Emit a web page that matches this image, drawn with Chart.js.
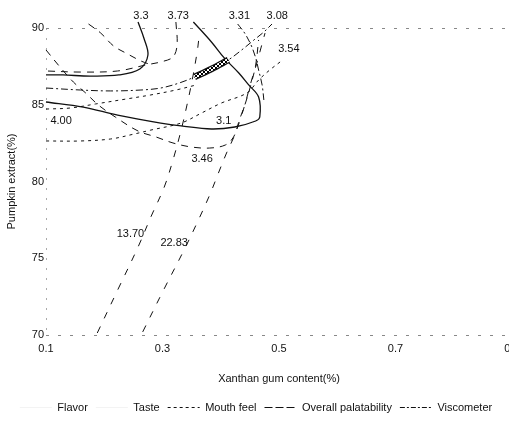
<!DOCTYPE html>
<html>
<head>
<meta charset="utf-8">
<script src="https://cdn.jsdelivr.net/npm/chart.js@4.4.0/dist/chart.umd.min.js"></script>
<style>
  html, body { margin: 0; padding: 0; background: #fff; overflow: hidden; }
  #wrap { position: absolute; left: 0; top: 0; width: 540px; height: 423px; }
</style>
</head>
<body>
<div id="wrap"><canvas id="c" width="540" height="423"></canvas></div>
<script>
// Superimposed contour lines: xanthan gum content (x) vs pumpkin extract (y)
const xTicks = [0.1, 0.3, 0.5, 0.7, 0.9];
const yTicks = [70, 75, 80, 85, 90];

// Flavor contours
const flavor33X = [0.258, 0.268, 0.275, 0.261, 0.225, 0.176, 0.129, 0.100];
const flavor33Y = [90.39, 89.35, 88.24, 87.33, 86.94, 86.87, 86.94, 86.94];
const flavor31X = [0.353, 0.384, 0.406, 0.431, 0.448, 0.465, 0.467, 0.460, 0.424, 0.384, 0.332, 0.297, 0.223, 0.164, 0.100];
const flavor31Y = [90.39, 89.09, 88.05, 87.07, 86.29, 85.50, 84.20, 83.94, 83.55, 83.42, 83.62, 83.81, 84.33, 84.85, 85.18];

// Taste contours
const taste373X = [0.323, 0.325, 0.318, 0.297, 0.271, 0.223, 0.159, 0.100];
const taste373Y = [90.39, 88.89, 88.11, 87.79, 87.59, 87.20, 87.13, 87.20];
const taste373bX = [0.173, 0.194, 0.216, 0.240, 0.263, 0.277];
const taste373bY = [90.26, 89.67, 88.83, 88.31, 87.85, 87.65];
const taste346X = [0.100, 0.124, 0.147, 0.168, 0.190, 0.219, 0.258, 0.289, 0.318, 0.349, 0.381, 0.408, 0.422, 0.432, 0.443, 0.453, 0.460, 0.465];
const taste346Y = [88.57, 87.46, 86.48, 85.77, 84.98, 84.20, 83.29, 82.90, 82.51, 82.25, 82.18, 82.38, 82.90, 84.01, 85.18, 86.48, 87.59, 89.22];

// Mouth feel contours
const mouth400X = [0.100, 0.142, 0.185, 0.237, 0.280, 0.323, 0.358];
const mouth400Y = [84.72, 84.79, 85.05, 85.37, 85.64, 85.96, 86.29];
const mouth354X = [0.100, 0.159, 0.211, 0.251, 0.280, 0.332, 0.367, 0.401, 0.445, 0.465, 0.484, 0.502];
const mouth354Y = [82.64, 82.64, 82.77, 83.09, 83.35, 83.81, 84.46, 85.11, 85.77, 86.61, 87.26, 87.79];

// Overall palatability contours
const overall308X = [0.100, 0.159, 0.211, 0.263, 0.297, 0.329, 0.355, 0.384, 0.413, 0.436, 0.457, 0.474, 0.488];
const overall308Y = [86.09, 85.96, 85.90, 85.96, 86.09, 86.42, 86.81, 87.33, 87.92, 88.57, 89.22, 89.74, 90.26];
const overall331X = [0.429, 0.441, 0.452, 0.460, 0.465, 0.471, 0.474];
const overall331Y = [90.26, 89.67, 88.89, 88.05, 87.26, 86.29, 85.31];

// Viscometer contours
const visc1370X = [0.188, 0.223, 0.258, 0.280, 0.303, 0.318, 0.332, 0.342, 0.351, 0.360, 0.363];
const visc1370Y = [70.13, 72.93, 75.73, 77.69, 79.64, 81.40, 83.35, 84.98, 86.61, 88.57, 89.54];
const visc2283X = [0.266, 0.301, 0.337, 0.360, 0.381, 0.396, 0.410, 0.424, 0.436, 0.445, 0.453, 0.462, 0.469, 0.476];
const visc2283Y = [70.20, 72.87, 75.54, 77.36, 79.12, 80.55, 81.86, 83.03, 84.33, 85.50, 86.61, 87.72, 88.70, 89.67];

// Optimum region where all constraints overlap
const optimumX = [0.355, 0.384, 0.413];
const optimumY = [86.81, 87.33, 87.92];

// Contour level labels
const labelText = ['3.3', '3.73', '3.31', '3.08', '3.54', '4.00', '3.1', '3.46', '13.70', '22.83'];
const labelX = [0.263, 0.327, 0.432, 0.497, 0.517, 0.126, 0.405, 0.368, 0.245, 0.320];
const labelY = [90.78, 90.78, 90.78, 90.78, 88.63, 83.94, 83.94, 81.47, 76.58, 75.99];

const legendNames = ['Flavor', 'Taste', 'Mouth feel', 'Overall palatability', 'Viscometer'];

const ink = '#111';
const FONT = '"Liberation Sans", Arial, Helvetica, sans-serif';
Chart.defaults.font.family = FONT;
Chart.defaults.font.size = 11;
Chart.defaults.color = ink;

const SOLID = [], LONG = [7, 6], SHORT = [3, 4], DASHDOT = [7, 3, 2, 3], VISC = [7, 9];
const legendDash = [[], [], [3, 3], [8, 3], [5, 2, 2, 2]];
const legendStroke = ['rgba(17,17,17,0.05)', 'rgba(17,17,17,0.05)', ink, ink, ink];

const canvas = document.getElementById('c');
const ctx2d = canvas.getContext('2d');

// cross-hatch fill for the optimum band
const hatch = (() => {
  const c = document.createElement('canvas');
  c.width = 4; c.height = 4;
  const g = c.getContext('2d');
  g.fillStyle = '#fff'; g.fillRect(0, 0, 4, 4);
  g.strokeStyle = '#000'; g.lineWidth = 1;
  g.beginPath(); g.moveTo(0, 0); g.lineTo(4, 4); g.moveTo(4, 0); g.lineTo(0, 4); g.stroke();
  return ctx2d.createPattern(c, 'repeat');
})();

const pts = (xs, ys) => xs.map((x, i) => ({ x, y: ys[i] }));
const contour = (label, xs, ys, dash, width, color) => ({
  label, data: pts(xs, ys), borderColor: color || ink, borderWidth: width || 1,
  borderDash: dash, pointRadius: 0, fill: false, tension: 0.35, clip: false
});

const datasets = [
  contour('Optimum', optimumX, optimumY, SOLID, 4, hatch),
  contour('Optimum edge', optimumX, optimumY, SOLID, 6.5, ink),
  contour('Flavor 3.3', flavor33X, flavor33Y, SOLID, 1.3),
  contour('Flavor 3.1', flavor31X, flavor31Y, SOLID, 1.3),
  contour('Taste 3.73', taste373X, taste373Y, LONG),
  contour('Taste 3.73', taste373bX, taste373bY, LONG),
  contour('Taste 3.46', taste346X, taste346Y, LONG),
  contour('Mouth feel 4.00', mouth400X, mouth400Y, SHORT),
  contour('Mouth feel 3.54', mouth354X, mouth354Y, SHORT),
  contour('Overall palatability 3.08', overall308X, overall308Y, DASHDOT),
  contour('Overall palatability 3.31', overall331X, overall331Y, DASHDOT),
  contour('Viscometer 13.70', visc1370X, visc1370Y, VISC),
  contour('Viscometer 22.83', visc2283X, visc2283Y, VISC)
];

const contourLabels = {
  id: 'contourLabels',
  afterDatasetsDraw(chart) {
    const { ctx, scales: { x, y } } = chart;
    ctx.save();
    ctx.font = '11px ' + FONT;
    ctx.fillStyle = ink;
    ctx.textAlign = 'center';
    ctx.textBaseline = 'middle';
    labelText.forEach((t, i) => {
      ctx.fillText(t, x.getPixelForValue(labelX[i]), y.getPixelForValue(labelY[i]));
    });
    ctx.restore();
  }
};

new Chart(canvas, {
  type: 'line',
  data: { datasets },
  plugins: [contourLabels],
  options: {
    responsive: false,
    devicePixelRatio: 1,
    animation: false,
    layout: { padding: { left: 0, right: 28, top: 28, bottom: 0 } },
    plugins: {
      tooltip: { enabled: false },
      legend: {
        position: 'bottom',
        labels: {
          usePointStyle: true,
          pointStyle: 'line',
          pointStyleWidth: 32,
          padding: 8,
          color: ink,
          font: { size: 11 },
          generateLabels: () => legendNames.map((name, i) => ({
            text: name,
            fillStyle: 'transparent',
            strokeStyle: legendStroke[i],
            lineWidth: 1,
            lineDash: legendDash[i],
            pointStyle: 'line',
            hidden: false,
            fontColor: ink,
            datasetIndex: i
          }))
        }
      }
    },
    scales: {
      x: {
        type: 'linear',
        min: 0.1, max: 0.9,
        afterBuildTicks: s => { s.ticks = xTicks.map(v => ({ value: v })); },
        afterFit: s => { s.height = 59; },
        ticks: { padding: 7, color: ink, maxRotation: 0, autoSkip: false, callback: v => Number(v).toFixed(1) },
        grid: { drawTicks: false, color: c => (c.tick && Math.abs(c.tick.value - 0.1) < 1e-9) ? '#aaa' : 'transparent' },
        border: { display: false, dash: [2, 8] },
        title: { display: true, text: 'Xanthan gum content(%)', color: ink, padding: { top: 4, bottom: 8 } }
      },
      y: {
        type: 'linear',
        min: 70, max: 90,
        afterBuildTicks: s => { s.ticks = yTicks.map(v => ({ value: v })); },
        afterFit: s => { s.width = 46; },
        ticks: { padding: 2, color: ink },
        grid: { drawTicks: false, color: c => (c.tick && (c.tick.value === 70 || c.tick.value === 90)) ? '#888' : 'transparent' },
        border: { display: false, dash: [3, 9] },
        title: { display: true, text: 'Pumpkin extract(%)', color: ink, padding: { top: 5, bottom: 2 } }
      }
    }
  }
});
</script>
</body>
</html>
